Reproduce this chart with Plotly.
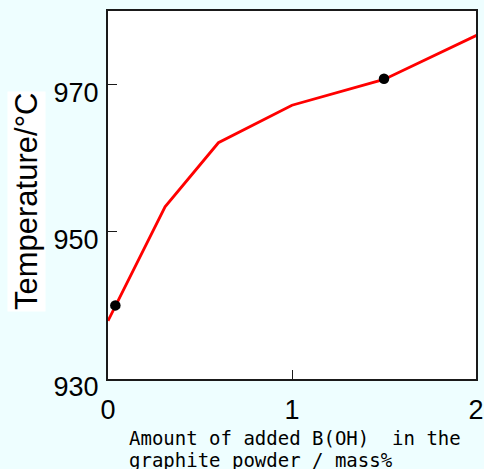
import plotly.graph_objects as go

# Curve (red line)
line_x = [0.0, 0.31, 0.60, 1.0, 1.5, 2.02]
line_y = [937.9, 953.4, 962.1, 967.2, 970.7, 976.9]

# Measured points (black dots)
pt_x = [0.04, 1.5]
pt_y = [940.0, 970.8]

x_ticks = [0, 1, 2]
y_ticks = [930, 950, 970]

BG = "#eefeff"
W, H = 484, 469
ML, MR, MT, MB = 108, 8, 11, 90
PW = W - ML - MR
PH = H - MT - MB


def px2paper_x(px):
    return (px - ML) / PW


def px2paper_y(py):
    return (H - MB - py) / PH


fig = go.Figure()
fig.add_trace(go.Scatter(
    x=line_x, y=line_y, mode="lines",
    line=dict(color="#ff0000", width=2.8),
    cliponaxis=False, showlegend=False, hoverinfo="skip",
))
fig.add_trace(go.Scatter(
    x=pt_x, y=pt_y, mode="markers",
    marker=dict(color="black", size=10.5),
    cliponaxis=False, showlegend=False,
))

axis_common = dict(
    showline=True, linecolor="#1a1a1a", linewidth=2, mirror=True,
    showgrid=False, zeroline=False, automargin=False,
    ticks="inside", ticklen=9, tickwidth=1.2, tickcolor="#1a1a1a",
    tickfont=dict(family="Liberation Sans, Arial, sans-serif", size=27, color="black"),
)

fig.update_xaxes(range=[0, 2], tickvals=x_ticks, ticktext=[str(v) for v in x_ticks],
                 ticklabelstandoff=6, **axis_common)
fig.update_yaxes(range=[930, 980], tickvals=y_ticks, ticktext=[str(v) for v in y_ticks],
                 ticklabelstandoff=2, ticklabelshift=8, **axis_common)

annotations = [
    dict(text="Temperature/°C", textangle=-90, xref="paper", yref="paper",
         x=px2paper_x(26), y=px2paper_y(202), xanchor="center", yanchor="middle",
         showarrow=False, bgcolor="white", borderpad=1,
         font=dict(family="Liberation Sans, Arial, sans-serif", size=31, color="black")),
    dict(text="Amount of added B(OH)\u00a0\u00a0in the", xref="paper", yref="paper",
         x=px2paper_x(127), y=px2paper_y(438), xanchor="left", yanchor="middle",
         showarrow=False,
         font=dict(family="DejaVu Sans Mono, monospace", size=19, color="black")),
    dict(text="graphite powder / mass%", xref="paper", yref="paper",
         x=px2paper_x(127), y=px2paper_y(460), xanchor="left", yanchor="middle",
         showarrow=False,
         font=dict(family="DejaVu Sans Mono, monospace", size=19, color="black")),
]

fig.update_layout(
    width=W, height=H,
    margin=dict(l=ML, r=MR, t=MT, b=MB, autoexpand=False),
    paper_bgcolor=BG, plot_bgcolor="white",
    annotations=annotations,
    showlegend=False,
)

fig.write_html(
    "out.html",
    config={"displayModeBar": False, "responsive": False},
    post_script="document.body.style.margin='0';document.body.style.overflow='hidden';"
                "document.body.style.background='" + BG + "';",
)
